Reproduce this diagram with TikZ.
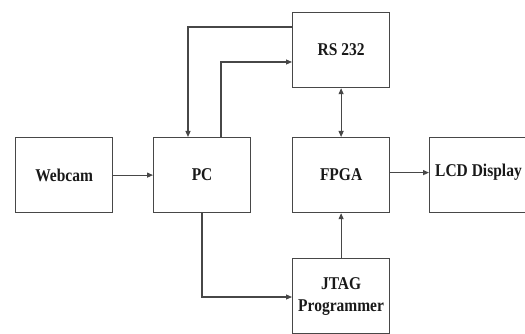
\documentclass[tikz,border=0pt]{standalone}
\usepackage{fontspec}
\setmainfont{Liberation Serif}
\usetikzlibrary{arrows.meta,calc}
\newcommand{\tallt}[1]{\scalebox{1}[1.16]{#1}}
\begin{document}
\begin{tikzpicture}[
  x=1pt,y=1pt,
  blk/.style={draw=black!72, line width=1.2pt, rectangle, minimum width=97pt, minimum height=75pt, anchor=north west, inner sep=0pt, align=center, font=\fontsize{15.5}{23}\selectfont\bfseries, text=black!90},
  lbl/.style={font=\fontsize{15.5}{23}\selectfont\bfseries, text=black!90, inner sep=0pt},
  arr/.style={draw=black!72, line width=1.1pt, -{Triangle[length=6pt,width=5pt]}},
  darr/.style={draw=black!72, line width=1.1pt, {Triangle[length=6pt,width=5pt]}-{Triangle[length=6pt,width=5pt]}}
]
\useasboundingbox (0,0) rectangle (525,-334);
\node[blk] (rs) at (292,-12) {\tallt{RS 232}};
\node[blk] (web) at (15,-137) {\tallt{Webcam}};
\node[blk] (pc) at (153,-137) {\tallt{PC}};
\node[blk] (fpga) at (292,-137) {\tallt{FPGA}};
\node[blk] (lcd) at (429,-137) {};
\node[lbl, anchor=west] (lcdt) at (435,-172) {\tallt{LCD Display}};
\node[blk] (jtag) at (292,-258) {\tallt{JTAG}\\[-1pt]\tallt{Programmer}};
\draw[arr] ($(rs.north west)+(0,-15)$) -| ($(pc.north west)+(35,0)$);
\draw[arr] ($(pc.north west)+(68,0)$) |- ($(rs.north west)+(0,-50)$);
\draw[darr] (rs) -- (fpga);
\draw[arr] (web) -- (pc);
\draw[arr] ($(fpga.east)+(0,2.5)$) -- ($(lcd.west)+(0,2.5)$);
\draw[arr] ($(pc.south west)+(49,0)$) |- ($(jtag.north west)+(0,-39)$);
\draw[arr] (jtag) -- (fpga);
\end{tikzpicture}
\end{document}
